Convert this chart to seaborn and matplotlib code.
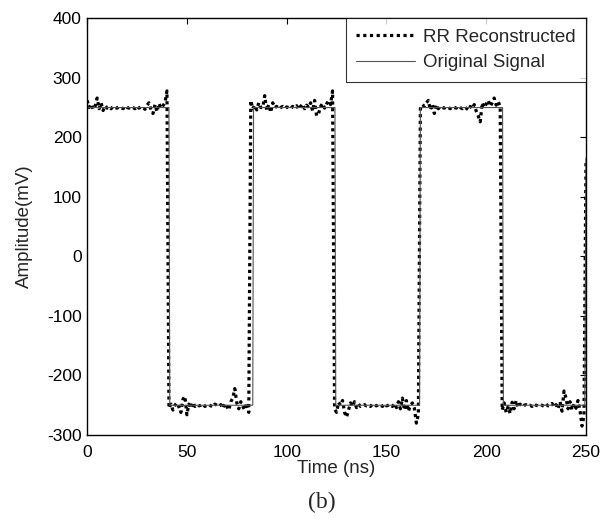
import numpy as np
import pandas as pd
import seaborn as sns
import matplotlib.pyplot as plt

# reconstructed signal, one sample per ns
seg_high_1 = [262, 250, 256, 247, 252, 266, 248, 258, 245, 253,
              249, 251, 248, 252, 250, 249, 251, 250, 248, 252,
              250, 249, 251, 250, 248, 252, 249, 251, 250, 247,
              254, 258, 246, 240, 255, 243, 257, 249, 253, 258, 278]
seg_low_1 = [-255, -248, -258, -250, -246, -253, -262, -240, -235, -266,
             -248, -255, -245, -252, -249, -251, -250, -248, -252, -250,
             -249, -251, -253, -248, -250, -252, -249, -255, -247, -252,
             -258, -244, -238, -222, -246, -256, -244, -252, -258, -246, -262]
seg_high_2 = [262, 248, 254, 246, 258, 250, 250, 270, 245, 255,
              242, 258, 250, 252, 248, 250, 252, 249, 251, 250,
              248, 252, 250, 253, 247, 252, 256, 248, 254, 250,
              258, 244, 262, 236, 240, 252, 257, 249, 256, 262, 255, 278]
seg_low_2 = [-256, -262, -245, -250, -242, -262, -270, -258, -246, -252,
             -244, -254, -248, -252, -250, -249, -251, -250, -252, -248,
             -250, -251, -249, -250, -252, -248, -251, -250, -249, -252,
             -247, -254, -244, -256, -238, -258, -242, -260, -250, -246,
             -255, -280, -265]
seg_high_3 = [248, 255, 252, 258, 262, 246, 256, 240, 254, 248,
              252, 250, 249, 251, 250, 248, 251, 250, 249, 252,
              250, 248, 251, 249, 246, 252, 248, 255, 244, 236,
              226, 258, 250, 256, 262, 252, 258, 266, 254, 260, 252]
seg_low_3 = [-258, -246, -262, -252, -264, -245, -256, -242, -254, -248,
             -252, -250, -249, -251, -250, -252, -248, -250, -251, -249,
             -250, -252, -248, -251, -250, -247, -253, -249, -256, -244,
             -260, -226, -238, -256, -244, -258, -248, -255, -242, -258,
             -285, -268]
seg_end = [160]

recon = seg_high_1 + seg_low_1 + seg_high_2 + seg_low_2 + seg_high_3 + seg_low_3 + seg_end
recon_t = np.arange(len(recon))

# original square wave corners
orig_t = [0, 41.0, 41.4, 83.0, 83.4, 124.2, 124.6, 166.6, 167.0, 208.2, 208.6, 249.4, 250]
orig_v = [250, 250, -250, -250, 250, 250, -250, -250, 250, 250, -250, -250, 165]

x_ticks = [0, 50, 100, 150, 200, 250]
y_ticks = [-300, -200, -100, 0, 100, 200, 300, 400]

df_rec = pd.DataFrame({'t': recon_t, 'v': recon})
df_orig = pd.DataFrame({'t': orig_t, 'v': orig_v})

sns.set_style('white')
plt.rcParams['font.family'] = ['Liberation Sans', 'DejaVu Sans']
plt.rcParams['axes.unicode_minus'] = False
plt.rcParams['xtick.direction'] = 'in'
plt.rcParams['ytick.direction'] = 'in'

fig = plt.figure(figsize=(6.01, 5.21), dpi=100)
ax = fig.add_axes([0.145, 0.165, 0.83, 0.8])

sns.lineplot(data=df_rec, x='t', y='v', ax=ax, sort=False, estimator=None,
             color='black', linewidth=2.3, linestyle=(0, (1, 1.1)),
             label='RR Reconstructed')
sns.lineplot(data=df_orig, x='t', y='v', ax=ax, sort=False, estimator=None,
             color='#555555', linewidth=0.8, label='Original Signal')

ax.set_xlim(0, 250)
ax.set_ylim(-300, 400)
ax.set_xticks(x_ticks)
ax.set_yticks(y_ticks)
ax.tick_params(labelsize=12.5, length=4, width=0.8, top=True, right=True,
               colors='black', pad=4)
ax.tick_params(axis='x', pad=7)
for sp in ax.spines.values():
    sp.set_color('black')
    sp.set_linewidth(1.0)

ax.set_xlabel('Time (ns)', fontsize=13.5, labelpad=0)
ax.set_ylabel('Amplitude(mV)', fontsize=13.5, labelpad=10)

leg = ax.legend(loc='upper right', fontsize=13.5, handlelength=3.1,
                frameon=True, fancybox=False, borderaxespad=0, borderpad=0.55,
                labelspacing=0.45, handletextpad=0.45)
leg.get_frame().set_edgecolor('black')
leg.get_frame().set_linewidth(0.8)

fig.text(0.535, 0.035, '(b)', fontsize=17, family=['Liberation Serif', 'DejaVu Serif'],
         ha='center', va='center')

fig.savefig('out.png', dpi=100)
